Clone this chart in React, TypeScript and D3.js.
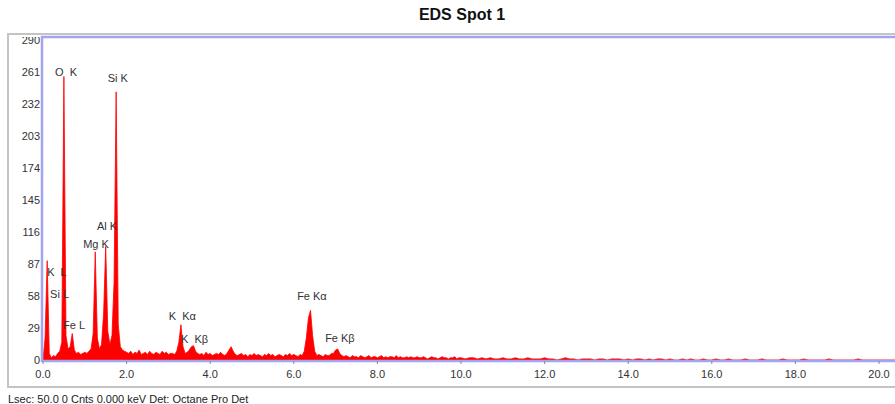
import React from "react";
import * as d3 from "d3";

// Spectrum counts, 0.00–9.95 keV at 0.05 keV per channel
const countsLow: number[] = [
  0, 20, 90, 6, 2, 4, 3, 6, 8, 16,
  257, 22, 10, 12, 24, 9, 6, 7, 5, 6,
  7, 6, 8, 10, 24, 98, 20, 10, 14, 42,
  103, 26, 14, 22, 70, 243, 32, 12, 9, 8,
  7, 6, 8, 5, 7, 6, 9, 5, 6, 7, 5, 8, 6, 5, 7, 6, 5, 8, 6, 7, 5, 6, 6, 5,
  8, 16, 32, 12, 6, 7, 9, 12, 13, 8, 6,
  5, 6, 4, 7, 5, 6, 4, 5, 6, 5, 7, 5, 4,
  6, 9, 12, 8, 5,
  4, 5, 6, 4, 5, 3, 5, 4, 6, 4, 5, 4, 3, 5, 4, 6, 4, 5, 3, 4, 5, 4, 3, 5, 4, 6, 4, 5, 4, 3, 5, 4,
  8, 20, 38, 45, 22, 8, 4,
  5, 4, 3, 5, 4, 4, 6,
  6, 9, 10, 6, 4,
  3, 4, 3, 2, 4, 3, 3, 2, 4, 3, 2, 3, 4, 2, 3, 3, 2, 3, 4, 2, 3, 2, 3, 3, 2, 4, 2, 3,
  2, 2, 3, 2, 3, 2, 2, 3, 2, 2, 3, 2, 1, 2, 3, 2, 2, 1, 2, 3, 2, 2, 1, 2, 2, 3, 1, 2,
];
// Spectrum counts, 10.0–19.9 keV at 0.1 keV per channel
const countsHigh: number[] = [
  2, 1, 2, 2, 1, 2, 1, 2, 1, 1, 2, 1, 1, 2, 1, 1, 2, 1, 1, 1,
  2, 1, 1, 0, 1, 2, 1, 1, 0, 1, 1, 1, 0, 1, 1, 0, 1, 1, 1, 0,
  1, 0, 1, 1, 0, 1, 0, 1, 1, 0, 1, 0, 0, 1, 0, 1, 0, 0, 1, 0,
  0, 1, 0, 0, 1, 0, 0, 0, 1, 0, 0, 0, 1, 0, 0, 0, 0, 1, 0, 0,
  0, 0, 1, 0, 0, 0, 0, 0, 1, 0, 0, 0, 0, 0, 0, 1, 0, 0, 0, 0,
];

const yTicks = [0, 29, 58, 87, 116, 145, 174, 203, 232, 261, 290];
const xTicks = [0, 2, 4, 6, 8, 10, 12, 14, 16, 18, 20];

const peakLabels = ["O  K", "Si K", "Al K", "Mg K", "K  L", "Si L", "Fe L", "K  Kα", "K  Kβ", "Fe Kα", "Fe Kβ"];
const peakLabelKeV = [0.29, 1.55, 1.29, 0.96, 0.1, 0.17, 0.48, 3.01, 3.3, 6.08, 6.75];
const peakLabelCnt = [261, 256, 121, 105, 80, 60, 32, 40, 19, 58, 20];

const title = "EDS Spot 1";
const footer = "Lsec: 50.0 0 Cnts 0.000 keV Det: Octane Pro Det";

export default function App() {
  const W = 895, H = 404;
  const x = d3.scaleLinear().domain([0, 20]).range([43, 879]);
  const y = d3.scaleLinear().domain([0, 290]).range([360, 40]);

  const pts: [number, number][] = [];
  countsLow.forEach((c, i) => pts.push([i * 0.05, c]));
  countsHigh.forEach((c, i) => pts.push([10 + i * 0.1, c]));
  pts.push([20.5, 0]);

  const area = d3.area<[number, number]>()
    .x((d) => x(d[0]))
    .y0(y(0))
    .y1((d) => y(d[1]))
    .curve(d3.curveLinear);
  const line = d3.line<[number, number]>()
    .x((d) => x(d[0]))
    .y((d) => y(d[1]));

  const font = "'Liberation Sans', Arial, sans-serif";
  const plotLeft = 42, plotTop = 37, plotBottom = 361, plotRight = 910;

  return (
    <svg width={W} height={H} style={{ position: "absolute", left: 0, top: 0, background: "#fff" }}>
      <defs>
        <clipPath id="ylab">
          <rect x={0} y={37} width={60} height={340} />
        </clipPath>
        <clipPath id="plot">
          <rect x={plotLeft + 1} y={plotTop + 1} width={plotRight - plotLeft} height={plotBottom - plotTop - 1} />
        </clipPath>
      </defs>
      <text x={462} y={20} textAnchor="middle" fontFamily={font} fontWeight="bold" fontSize={16} fill="#111">
        {title}
      </text>
      {/* outer frame */}
      <rect x={8} y={34} width={920} height={353} fill="none" stroke="#c4c4c4" strokeWidth={2} />
      {/* spectrum */}
      <g clipPath="url(#plot)">
        <path d={area(pts) || ""} fill="#ff0000" />
        <path d={line(pts) || ""} fill="none" stroke="#ff0000" strokeWidth={0.8} />
      </g>
      {/* plot frame */}
      <rect x={plotLeft} y={plotTop} width={plotRight - plotLeft} height={plotBottom - plotTop}
        fill="none" stroke="#a3a3f2" strokeWidth={2.5} />
      {/* y tick labels */}
      <g clipPath="url(#ylab)">
        {yTicks.map((t) => (
          <text key={t} x={40} y={y(t)} textAnchor="end" dominantBaseline="central"
            fontFamily={font} fontSize={11} fill="#333">
            {t}
          </text>
        ))}
      </g>
      {/* x ticks */}
      {xTicks.map((t) => (
        <g key={t}>
          <line x1={x(t)} x2={x(t)} y1={plotBottom} y2={plotBottom + 3} stroke="#888" strokeWidth={1} />
          <text x={x(t)} y={374} textAnchor="middle" dominantBaseline="central"
            fontFamily={font} fontSize={11} fill="#333">
            {t.toFixed(1)}
          </text>
        </g>
      ))}
      {/* peak labels */}
      {peakLabels.map((l, i) => (
        <text key={l + i} x={x(peakLabelKeV[i])} y={y(peakLabelCnt[i])} dominantBaseline="central"
          fontFamily={font} fontSize={11} fill="#333" style={{ whiteSpace: "pre" }}>
          {l}
        </text>
      ))}
      <text x={8} y={403} fontFamily={font} fontSize={11} fill="#222">
        {footer}
      </text>
    </svg>
  );
}
